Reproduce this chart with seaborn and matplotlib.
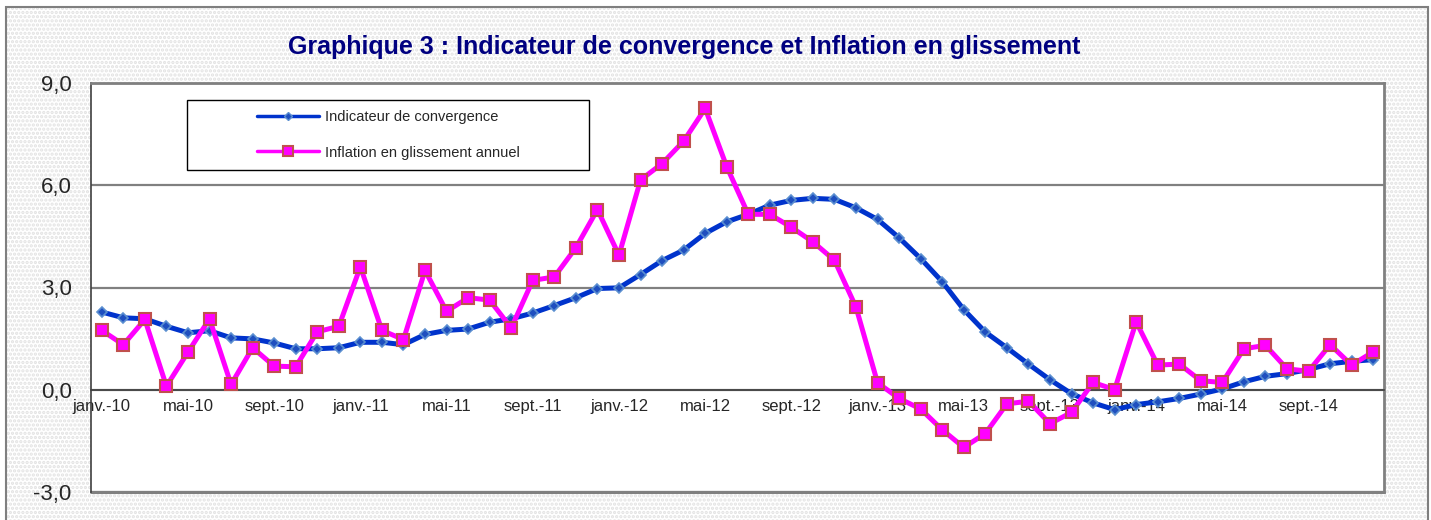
import matplotlib
matplotlib.use("Agg")
import matplotlib.pyplot as plt
from matplotlib.patches import Rectangle
from matplotlib.lines import Line2D
from matplotlib.ticker import FuncFormatter
import pandas as pd
import seaborn as sns

# valeurs mensuelles janv.-10 -> déc.-14
indicateur = [2.28, 2.11, 2.08, 1.86, 1.67, 1.73, 1.52, 1.49, 1.37, 1.20,
              1.20, 1.23, 1.39, 1.39, 1.32, 1.62, 1.74, 1.78, 1.98, 2.08,
              2.25, 2.47, 2.70, 2.97, 2.99, 3.38, 3.79, 4.10, 4.59, 4.93,
              5.15, 5.42, 5.56, 5.62, 5.59, 5.34, 5.00, 4.46, 3.85, 3.17,
              2.35, 1.69, 1.23, 0.75, 0.29, -0.12, -0.39, -0.59, -0.44, -0.36,
              -0.26, -0.13, 0.02, 0.23, 0.39, 0.47, 0.59, 0.76, 0.83, 0.88]
inflation = [1.74, 1.32, 2.06, 0.10, 1.10, 2.08, 0.15, 1.23, 0.69, 0.67,
             1.70, 1.86, 3.61, 1.74, 1.47, 3.50, 2.30, 2.70, 2.63, 1.81,
             3.21, 3.31, 4.17, 5.29, 3.95, 6.16, 6.64, 7.30, 8.26, 6.55,
             5.15, 5.15, 4.77, 4.34, 3.80, 2.42, 0.20, -0.26, -0.57, -1.18,
             -1.70, -1.29, -0.42, -0.34, -1.00, -0.67, 0.21, 0.00, 1.99, 0.72,
             0.75, 0.26, 0.21, 1.20, 1.30, 0.61, 0.54, 1.32, 0.72, 1.11]
tick_labels = ["janv.-10", "mai-10", "sept.-10", "janv.-11", "mai-11", "sept.-11",
               "janv.-12", "mai-12", "sept.-12", "janv.-13", "mai-13", "sept.-13",
               "janv.-14", "mai-14", "sept.-14"]
y_ticks = [-3, 0, 3, 6, 9]

sns.set_style("white")
plt.rcParams['font.family'] = ['Liberation Sans', 'DejaVu Sans']
plt.rcParams['hatch.linewidth'] = 1.6

df = pd.DataFrame({"mois": range(len(indicateur)),
                   "indicateur": indicateur,
                   "inflation": inflation})

W, H = 1431, 520
fig = plt.figure(figsize=(W / 100, H / 100), dpi=100)
fig.patch.set_facecolor("white")

# fond pointillé + cadre extérieur
fig.patches.append(Rectangle((6 / W, -0.05), 1422 / W, 1 - 7 / H + 0.05,
                             transform=fig.transFigure, facecolor="white",
                             edgecolor="#e2e2e2", hatch="....", lw=0, zorder=-2))
fig.patches.append(Rectangle((6 / W, -0.05), 1422 / W, 1 - 7 / H + 0.05,
                             transform=fig.transFigure, facecolor="none",
                             edgecolor="#7f7f7f", lw=1.5, zorder=-1))

ax = fig.add_axes([91 / W, 28.3 / H, 1293 / W, 408.4 / H])
ax.set_facecolor("white")

sns.lineplot(data=df, x="mois", y="indicateur", ax=ax, color="#0033CC", lw=3.6,
             marker="D", ms=5, mfc="#1F4FBF", mec="#5B8FD0", mew=1.2, zorder=3)
sns.lineplot(data=df, x="mois", y="inflation", ax=ax, color="#FF00FF", lw=3.6,
             marker="s", ms=8.5, mfc="#FF00FF", mec="#C0504D", mew=1.5, zorder=4)

ax.set_xlim(-0.5, len(indicateur) - 0.5)
ax.set_ylim(-3, 9)
ax.set_xlabel("")
ax.set_ylabel("")

ax.set_yticks(y_ticks)
ax.yaxis.set_major_formatter(FuncFormatter(lambda v, p: f"{v:.1f}".replace(".", ",")))
ax.yaxis.grid(True, color="#808080", lw=1.6)
ax.set_axisbelow(True)
# bord inférieur de la zone de tracé
ax.axhline(-3, color="#808080", lw=2.2, clip_on=False, zorder=2)

ax.set_xticks(range(0, len(indicateur), 4))
ax.set_xticklabels(tick_labels)
ax.set_xticks([x - 0.5 for x in range(0, len(indicateur) + 1, 4)], minor=True)
ax.tick_params(axis="x", which="major", length=0, pad=7, labelsize=12)
ax.tick_params(axis="x", which="minor", length=5, width=1, color="black", direction="out")
ax.tick_params(axis="y", length=6, width=1, color="black", direction="out",
               pad=8, labelsize=16)

ax.spines["bottom"].set_position(("data", 0))
ax.spines["bottom"].set_color("#404040")
ax.spines["bottom"].set_linewidth(1.2)
ax.spines["left"].set_color("#404040")
ax.spines["left"].set_linewidth(1.2)
for s in ["top", "right"]:
    ax.spines[s].set_color("#808080")
    ax.spines[s].set_linewidth(2)

# légende encadrée
ax.add_patch(Rectangle((0.074, 0.7877), 0.3114, 0.1713, transform=ax.transAxes,
                       facecolor="white", edgecolor="black", lw=1, zorder=5))
handles = [Line2D([], [], color="#0033CC", lw=2.5, marker="D", ms=4,
                  mfc="#1F4FBF", mec="#5B8FD0", mew=1),
           Line2D([], [], color="#FF00FF", lw=2.5, marker="s", ms=7,
                  mfc="#FF00FF", mec="#C0504D", mew=1.5)]
leg = ax.legend(handles, ["Indicateur de convergence", "Inflation en glissement annuel"],
                loc="center left", bbox_to_anchor=(0.1282, 0.8734), frameon=False,
                fontsize=10.5, handlelength=4.25, handletextpad=0.4,
                labelspacing=1.45, borderpad=0, borderaxespad=0, numpoints=1)
leg.set_zorder(6)

fig.text(684 / W, 1 - 47 / H,
         "Graphique 3 : Indicateur de convergence et Inflation en glissement",
         ha="center", va="center", fontsize=18, fontweight="bold", color="#000080")

fig.savefig("out.png", dpi=100)
